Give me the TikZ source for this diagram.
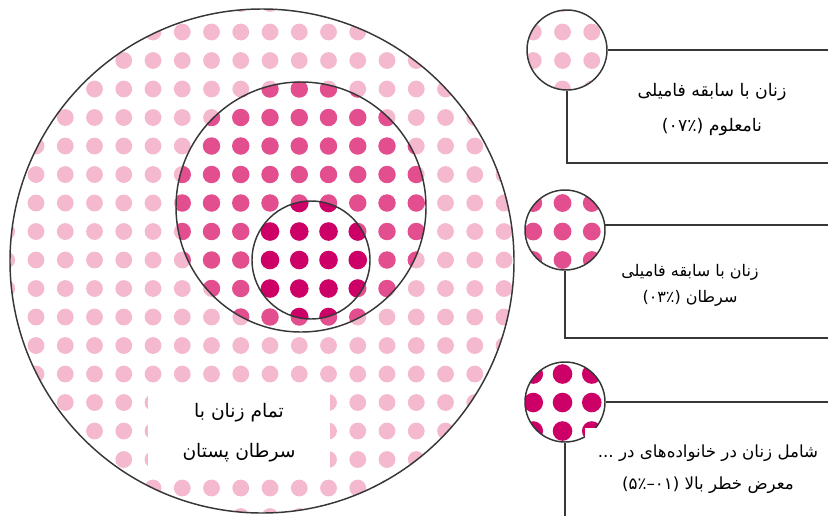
\documentclass[tikz,border=0pt]{standalone}
\usepackage{fontspec}
\newfontfamily\arabicfont[Script=Arabic]{DejaVu Sans}
\TeXXeTstate=1
\usepackage{xcolor}

\definecolor{dotlight}{RGB}{244,184,207}
\definecolor{dotmid}{RGB}{226,78,142}
\definecolor{dotdark}{RGB}{204,0,102}
\definecolor{rimgray}{RGB}{55,55,55}

% one grid of dots, same for every ring
\newcommand{\dotgrid}[2]{%
  \foreach \i in {-1,...,20}{\foreach \j in {-1,...,18}{
    \fill[#1] ({36+29.25*\i},{32+28.5*\j}) circle (#2);}}}

\begin{document}
\begin{tikzpicture}[x=0.75pt,y=-0.75pt,
  rim/.style={draw=rimgray, line width=1.1pt},
  lead/.style={draw=rimgray, line width=0.85pt},
  badge/.style={circle, draw=rimgray, line width=1.1pt, minimum size=60pt, inner sep=0pt},
  tag/.style={align=center, inner sep=0pt},
  blank/.style={fill=white, draw=none}
]
\useasboundingbox (0,0) rectangle (828,515);

% rings of the main disc
\begin{scope}
  \clip (262,261) circle (252);
  \dotgrid{dotlight}{8.4}
\end{scope}
\begin{scope}
  \clip (301,207) circle (125);
  \dotgrid{dotmid}{8.7}
\end{scope}
\begin{scope}
  \clip (311,260) circle (59);
  \dotgrid{dotdark}{9.3}
\end{scope}
\draw[rim] (262,261) circle (252);
\draw[rim] (301,207) circle (125);
\draw[rim] (311,260) circle (59);

\fill[blank] (148,383) rectangle (330,470);
\node[tag, font=\arabicfont\fontsize{14}{30}\selectfont] (allTxt) at (239,433)
  {\beginR تمام زنان با\endR\\\beginR سرطان پستان\endR};

% legend badges
\coordinate (rEdge) at (832,0);
\coordinate (famC) at (567,50);
\coordinate (histC) at (565,230);
\coordinate (riskC) at (565,402);

\begin{scope}
  \clip (famC) circle (40);
  \dotgrid{dotlight}{8.4}
\end{scope}
\begin{scope}
  \clip (histC) circle (40);
  \dotgrid{dotmid}{8.9}
\end{scope}
\begin{scope}
  \clip (riskC) circle (40);
  \dotgrid{dotdark}{9.8}
\end{scope}
\node[badge] (fam) at (famC) {};
\node[badge] (hist) at (histC) {};
\node[badge] (risk) at (riskC) {};

\coordinate (famEnd) at (832,163);
\coordinate (histEnd) at (832,338);
\coordinate (riskEnd) at (565,520);
\draw[lead] (fam.east) -- (fam.east -| rEdge);
\draw[lead] (fam.south) |- (famEnd);
\draw[lead] (hist.7) -- (hist.7 -| rEdge);
\draw[lead] (hist.south) |- (histEnd);
\draw[lead] (risk.east) -- (risk.east -| rEdge);
\draw[lead] (risk.south) -- (riskEnd);

\fill[blank] (585,428) rectangle (832,520);

\node[tag, font=\arabicfont\fontsize{13}{26}\selectfont] (famTxt) at (712,109.5)
  {\beginR زنان با سابقه فامیلی\endR\\\beginR نامعلوم \beginL(۰۷٪)\endL\endR};
\node[tag, font=\arabicfont\fontsize{12}{19.5}\selectfont] (histTxt) at (690,285)
  {\beginR زنان با سابقه فامیلی\endR\\\beginR سرطان \beginL(۰۳٪)\endL\endR};
\node[tag, font=\arabicfont\fontsize{12.5}{24}\selectfont] (riskTxt) at (708,469)
  {\beginR شامل زنان در خانواده‌های در ...\endR\\\beginR معرض خطر بالا \beginL(۰۱–۵٪)\endL\endR};
\end{tikzpicture}
\end{document}
